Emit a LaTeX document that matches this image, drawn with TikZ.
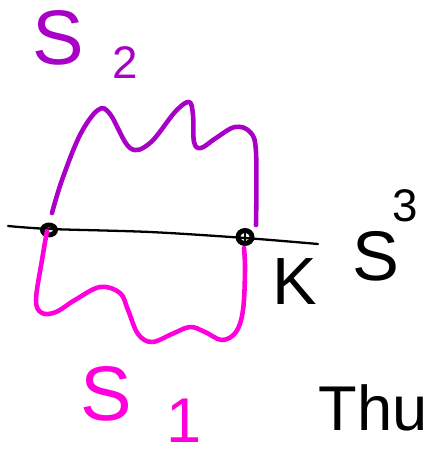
\documentclass[tikz,border=0pt]{standalone}
\usepackage{fontspec}
\setmainfont{Liberation Sans}
\usepackage{xcolor}
\usepackage{tikz}
\usetikzlibrary{positioning,shapes.geometric}
\definecolor{surfpurple}{RGB}{168,0,198}
\definecolor{surfmagenta}{RGB}{255,0,220}
\tikzset{
  knotline/.style={
    line width=1.3pt,
    black,
    line cap=round
  },
  knotpt/.style={
    ellipse,
    draw=black,
    line width=2.8pt,
    minimum width=0.26cm,
    minimum height=0.2cm,
    inner sep=0pt
  },
  surfline/.style={
    line width=2.6pt,
    line cap=round,
    line join=round
  },
  biglabel/.style={
    font=\fontsize{44}{44}\selectfont,
    anchor=base west,
    text depth=0pt,
    inner sep=0pt
  },
  smalllabel/.style={
    font=\fontsize{26}{26}\selectfont,
    anchor=base west,
    text depth=0pt,
    inner sep=0pt
  }
}
\begin{document}
\begin{tikzpicture}[x=0.02cm, y=-0.02cm]
\useasboundingbox (0,0) rectangle (430,455);
% the knot K
\coordinate (kleft) at (8,226);
\coordinate (kright) at (318,244);
\draw[knotline] plot[smooth] coordinates {(kleft) (50,229) (150,232) (245,238) (kright)};
\node[knotpt] (p) at (49,230) {};
\node[knotpt, minimum width=0.28cm, minimum height=0.26cm] (q) at (245,237) {};
\draw[line width=1.6pt] (q.north) -- (q.south);
% surface S_2
\draw[surfline, surfpurple] plot[smooth, tension=0.6] coordinates {
  (52,213) (62,180) (80,135) (98,110) (110,114) (130,148) (150,143)
  (175,112) (189,102) (193,115) (194,142) (201,148) (216,138) (235,127)
  (250,132) (256,152) (256,225)};
% surface S_1
\draw[surfline, surfmagenta] plot[smooth, tension=0.6] coordinates {
  (47,231) (42,260) (36,300) (42,313) (56,312) (75,300) (100,287)
  (120,293) (128,310) (138,334) (152,342) (172,334) (190,327) (205,332)
  (222,340) (236,332) (243,310) (245,270) (244,248)};
% labels
\node[biglabel, text=surfpurple] (stwo) at (32,65) {S};
\node[smalllabel, text=surfpurple] (stwosub) at (112,79) {2};
\node[biglabel, text=surfmagenta] (sone) at (80,420) {S};
\node[biglabel, text=surfmagenta, font=\fontsize{36}{36}\selectfont] (sonesub) at (166,442) {1};
\node[biglabel, font=\fontsize{38}{38}\selectfont] (knotk) at (272,304) {K};
\node[biglabel, font=\fontsize{40}{40}\selectfont] (sthree) at (352,280) {S};
\node[smalllabel] (sthreesup) at (392,222) {3};
\node[biglabel, font=\fontsize{36}{36}\selectfont] (thu) at (318,430) {Thu};
\end{tikzpicture}
\end{document}
